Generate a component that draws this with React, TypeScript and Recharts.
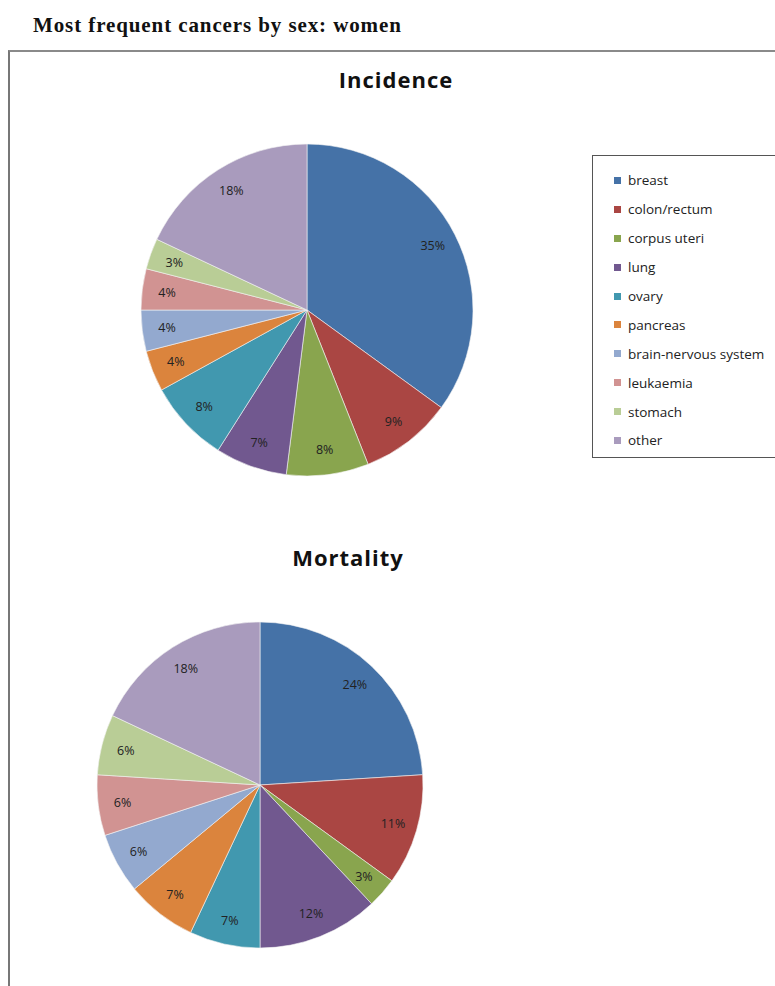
import React from "react";
import { PieChart, Pie, Cell, Legend } from "recharts";

// Cancer sites, in the order the slices run clockwise from twelve o'clock
const sites = [
  "breast",
  "colon/rectum",
  "corpus uteri",
  "lung",
  "ovary",
  "pancreas",
  "brain-nervous system",
  "leukaemia",
  "stomach",
  "other",
];

// Share of all cancers in women, percent
const incidence = [35, 9, 8, 7, 8, 4, 4, 4, 3, 18];
const mortality = [24, 11, 3, 12, 7, 7, 6, 6, 6, 18];

const colors = [
  "#4572A7",
  "#AA4643",
  "#89A54E",
  "#71588F",
  "#4198AF",
  "#DB843D",
  "#93A9CF",
  "#D19392",
  "#B9CD96",
  "#A99BBD",
];

const incidenceData = sites.map((name, i) => ({ name, value: incidence[i] }));
const mortalityData = sites.map((name, i) => ({ name, value: mortality[i] }));

const RADIAN = Math.PI / 180;
const sansFont = "'Open Sans', 'DejaVu Sans', sans-serif";

const renderLabel = (props: any) => {
  const { cx, cy, midAngle, outerRadius, value } = props;
  const r = outerRadius * 0.85;
  const x = cx + r * Math.cos(-midAngle * RADIAN);
  const y = cy + r * Math.sin(-midAngle * RADIAN);
  return (
    <text
      x={x}
      y={y}
      textAnchor="middle"
      dominantBaseline="central"
      fontFamily={sansFont}
      fontSize={12.5}
      fill="#222"
    >
      {`${value}%`}
    </text>
  );
};

const LegendBox = () => (
  <div
    style={{
      border: "1px solid #555",
      borderRight: "none",
      width: 190,
      height: 303,
      boxSizing: "border-box",
      paddingTop: 10,
      paddingLeft: 21,
      fontFamily: sansFont,
      fontSize: 13.5,
      color: "#222",
      background: "#fff",
    }}
  >
    {sites.map((s, i) => (
      <div
        key={s}
        style={{ height: 28.9, display: "flex", alignItems: "center", whiteSpace: "nowrap" }}
      >
        <span
          style={{
            display: "inline-block",
            width: 7,
            height: 7,
            background: colors[i],
            marginRight: 7,
          }}
        />
        <span>{s}</span>
      </div>
    ))}
  </div>
);

const chartTitle = (text: string, left: number, top: number) => (
  <div
    style={{
      position: "absolute",
      left,
      top,
      width: 200,
      textAlign: "center",
      fontFamily: sansFont,
      fontWeight: "bold",
      fontSize: 22,
      letterSpacing: 1,
      color: "#111",
    }}
  >
    {text}
  </div>
);

export default function App() {
  return (
    <div
      style={{
        position: "absolute",
        left: 0,
        top: 0,
        width: 775,
        height: 986,
        background: "#fff",
        overflow: "hidden",
      }}
    >
      <div
        style={{
          position: "absolute",
          left: 33,
          top: 13,
          fontFamily: "'Liberation Serif', 'Times New Roman', serif",
          fontWeight: "bold",
          fontSize: 21,
          letterSpacing: 0.9,
          color: "#111",
          whiteSpace: "nowrap",
        }}
      >
        Most frequent cancers by sex: women
      </div>
      {/* outer frame */}
      <div
        style={{
          position: "absolute",
          left: 8,
          top: 50,
          width: 800,
          height: 960,
          borderTop: "2px solid #8a8a8a",
          borderLeft: "2px solid #777",
        }}
      />
      {chartTitle("Incidence", 296, 64)}
      {chartTitle("Mortality", 248, 542)}
      <div style={{ position: "absolute", left: 0, top: 0 }}>
        <PieChart width={775} height={986}>
          <Pie
            data={incidenceData}
            dataKey="value"
            nameKey="name"
            cx={302}
            cy={305}
            outerRadius={166}
            startAngle={90}
            endAngle={-270}
            stroke="#f4f4f4"
            strokeWidth={0.6}
            label={renderLabel}
            labelLine={false}
            isAnimationActive={false}
          >
            {incidenceData.map((d, i) => (
              <Cell key={d.name} fill={colors[i]} />
            ))}
          </Pie>
          <Pie
            data={mortalityData}
            dataKey="value"
            nameKey="name"
            cx={255}
            cy={780}
            outerRadius={163}
            startAngle={90}
            endAngle={-270}
            stroke="#f4f4f4"
            strokeWidth={0.6}
            label={renderLabel}
            labelLine={false}
            isAnimationActive={false}
          >
            {mortalityData.map((d, i) => (
              <Cell key={d.name} fill={colors[i]} />
            ))}
          </Pie>
          <Legend
            content={() => <LegendBox />}
            wrapperStyle={{ position: "absolute", left: 592, top: 155, width: 190, height: 303 }}
          />
        </PieChart>
      </div>
    </div>
  );
}
